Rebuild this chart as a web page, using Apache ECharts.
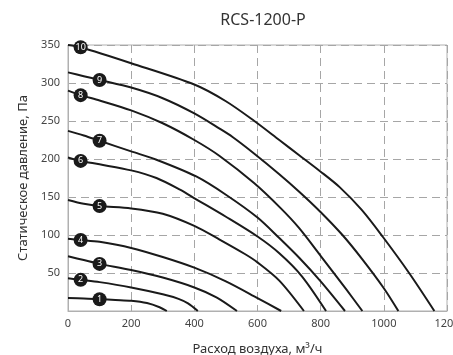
<!DOCTYPE html>
<html>
<head>
<meta charset="utf-8">
<script src="https://cdn.jsdelivr.net/npm/echarts@6/dist/echarts.min.js"></script>
<style>
  html, body { margin: 0; padding: 0; background: #fff; }
  #chart { width: 453px; height: 355px; }
</style>
</head>
<body>
<div id="chart"></div>
<script>
// curves: [расход м3/ч, статическое давление Па]
const curve1 = [[0, 17], [50, 16.5], [100, 15.5], [150, 14.5], [200, 13.5], [250, 10.5], [290, 5], [313, 0]]
const curve2 = [[0, 43], [40, 41], [100, 38], [200, 31], [300, 22], [350, 16], [380, 10], [411, 0]]
const curve3 = [[0, 72], [50, 67], [100, 62], [200, 54], [300, 44], [400, 31], [470, 18], [535, 0]]
const curve4 = [[0, 95], [40, 93.5], [100, 91], [200, 83], [300, 71], [400, 57], [500, 39], [600, 17], [675, 0]]
const curve5 = [[0, 146], [50, 141], [100, 138], [200, 135], [300, 128], [400, 112], [480, 94], [560, 75], [600, 64], [669, 40], [747, 0]]
const curve6 = [[0, 202], [40, 197.5], [100, 193], [200, 185], [280, 175], [353, 160], [406, 147], [500, 124], [600, 98], [669, 76], [740, 46], [817, 0]]
const curve7 = [[0, 237], [50, 231], [100, 224], [200, 210], [280, 199], [406, 177], [500, 153], [600, 123], [669, 96], [732, 70], [800, 39], [877, 0]]
const curve8 = [[0, 290], [40, 284], [100, 277], [200, 264], [300, 247], [400, 225], [480, 204], [590, 168], [674, 135], [732, 109], [801, 72], [880, 29], [932, 0]]
const curve9 = [[0, 314], [50, 309], [100, 304], [200, 294], [300, 280], [400, 260], [480, 240], [521, 229], [590, 207], [669, 180], [732, 157], [798, 131], [869, 100], [932, 68], [1000, 30], [1046, 0]]
const curve10 = [[0, 350], [40, 347], [200, 326], [400, 298], [500, 276], [590, 250], [669, 225], [732, 205], [798, 184], [860, 163], [930, 133], [996, 98], [1080, 50], [1160, 0]]

const curves = [curve1, curve2, curve3, curve4, curve5, curve6, curve7, curve8, curve9, curve10]
const curveNames = ['1', '2', '3', '4', '5', '6', '7', '8', '9', '10']
// index of the point in each curve that carries the numbered marker
const markerIdx = [2, 1, 2, 1, 2, 1, 2, 1, 2, 1]

const xTicks = [0, 200, 400, 600, 800, 1000, 1200]
const yTicks = [0, 50, 100, 150, 200, 250, 300, 350]

const FONT = 'Noto Sans'
const LABEL = { color: '#444', fontSize: 11, fontFamily: FONT }
const GRID_LINE = { show: true, lineStyle: { color: '#a6a6a6', type: [8, 5], width: 1 } }

const chart = echarts.init(document.getElementById('chart'))

chart.setOption({
  animation: false,
  title: {
    text: 'RCS-1200-P',
    left: 258, top: 7, textAlign: 'center',
    textStyle: { fontFamily: FONT, fontSize: 16, fontWeight: 'normal', color: '#333' }
  },
  grid: {
    left: 68, right: 6, top: 45, bottom: 44,
    outerBoundsMode: 'none',
    show: true, borderColor: '#b0b0b0', borderWidth: 1
  },
  xAxis: {
    type: 'value',
    min: xTicks[0], max: xTicks[xTicks.length - 1], interval: 200,
    name: 'Расход воздуха, м³/ч',
    nameLocation: 'middle', nameGap: 32,
    nameTextStyle: { fontFamily: FONT, fontSize: 13, color: '#333' },
    axisLine: { lineStyle: { color: '#b0b0b0' } },
    axisTick: { show: false },
    axisLabel: { ...LABEL, margin: 7, formatter: v => String(v) },
    splitLine: GRID_LINE
  },
  yAxis: {
    type: 'value',
    min: yTicks[0], max: yTicks[yTicks.length - 1], interval: 50,
    name: 'Статическое давление, Па',
    nameLocation: 'middle', nameGap: 36,
    nameTextStyle: { fontFamily: FONT, fontSize: 13, color: '#333' },
    axisLine: { show: true, lineStyle: { color: '#b0b0b0' } },
    axisTick: { show: false },
    axisLabel: { ...LABEL, margin: 8, formatter: v => (v === 0 ? '' : String(v)) },
    splitLine: GRID_LINE
  },
  series: curves.map((c, k) => ({
    type: 'line',
    name: curveNames[k],
    smooth: 0.3,
    showSymbol: true,
    showAllSymbol: true,
    lineStyle: { color: '#1a1a1a', width: 2 },
    itemStyle: { color: '#1a1a1a' },
    data: c.map((p, i) => i === markerIdx[k]
      ? {
          value: p, symbol: 'circle', symbolSize: 14,
          label: {
            show: true, position: 'inside', formatter: curveNames[k],
            color: '#fff', fontSize: 9, fontFamily: FONT
          }
        }
      : { value: p, symbol: 'none' }),
    z: 3
  }))
})

window.addEventListener('resize', () => chart.resize())
</script>
</body>
</html>
